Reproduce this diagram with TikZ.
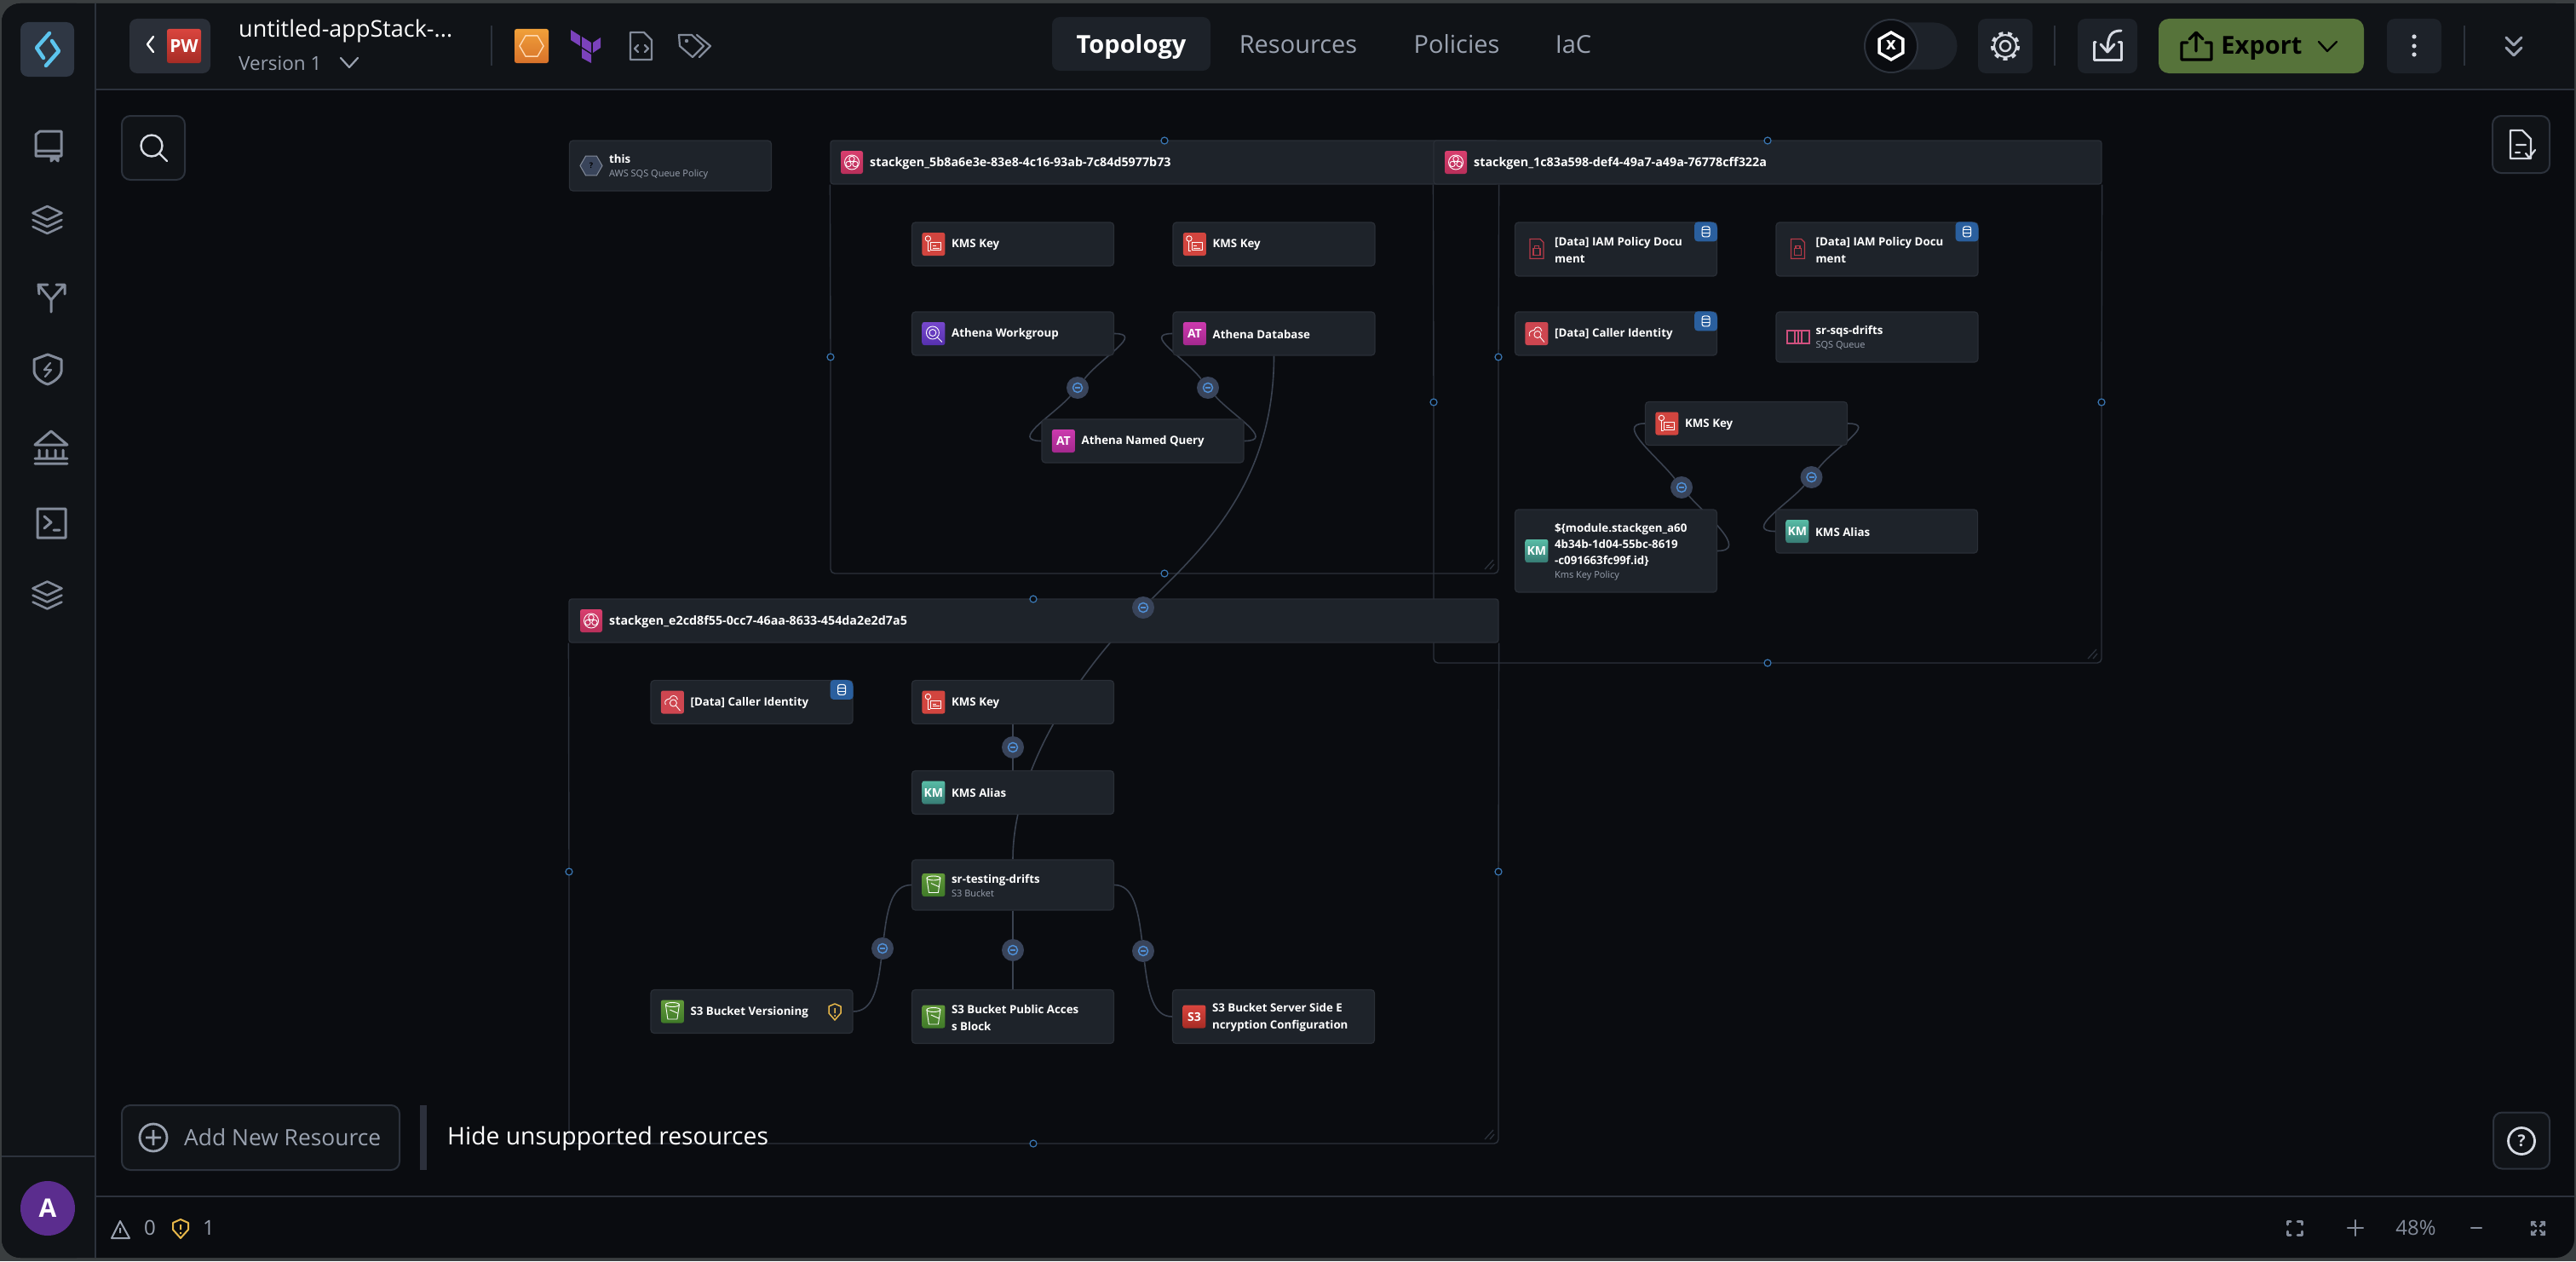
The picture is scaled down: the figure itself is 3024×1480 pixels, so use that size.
\documentclass[tikz,border=0pt]{standalone}
\usepackage{fontspec}
\setmainfont{Open Sans}
\usetikzlibrary{positioning, shapes.geometric, backgrounds}
\definecolor{outer}{HTML}{3A3E40}
\definecolor{canvas}{HTML}{0A0C10}
\definecolor{barbg}{HTML}{101317}
\definecolor{cardbg}{HTML}{1E232A}
\definecolor{cardline}{HTML}{2A2F37}
\definecolor{frameline}{HTML}{2C323C}
\definecolor{wirecol}{HTML}{3A4250}
\definecolor{lnkbg}{HTML}{39445A}
\definecolor{bluemark}{HTML}{4F8FD6}
\definecolor{handlecol}{HTML}{3A78B5}
\definecolor{btnbg}{HTML}{1D2229}
\definecolor{logobg}{HTML}{2F3744}
\definecolor{backbg}{HTML}{2A2F38}
\definecolor{greyicon}{HTML}{838B9A}
\definecolor{lighticon}{HTML}{D6DAE2}
\definecolor{dimtext}{HTML}{9AA2B0}
\definecolor{exportbg}{HTML}{56733A}
\definecolor{dbblue}{HTML}{2A5F9E}
\definecolor{warnyellow}{HTML}{E8B84A}
\definecolor{pinktop}{HTML}{D83F6E}
\definecolor{pinkbot}{HTML}{B82F5A}
\definecolor{kmsred}{HTML}{D2453F}
\definecolor{callred}{HTML}{CE4650}
\definecolor{kmtop}{HTML}{58BCA6}
\definecolor{kmbot}{HTML}{377C74}
\definecolor{attop}{HTML}{CC3AAE}
\definecolor{atbot}{HTML}{A3288E}
\definecolor{wgtop}{HTML}{7748CC}
\definecolor{wgbot}{HTML}{5530AE}
\definecolor{s3top}{HTML}{629A3A}
\definecolor{s3bot}{HTML}{3F7A28}
\definecolor{sredtop}{HTML}{DA453E}
\definecolor{sredbot}{HTML}{A62C25}
\definecolor{docred}{HTML}{B43A48}
\definecolor{sqspink}{HTML}{D0507E}
\definecolor{avatar}{HTML}{5B2D8E}
\definecolor{tfpurple}{HTML}{7B42BC}
\definecolor{orangetop}{HTML}{F0A03A}
\definecolor{orangebot}{HTML}{D8722A}
\definecolor{swirl}{HTML}{5CC4EE}
\definecolor{barmark}{HTML}{2C303C}
\pgfdeclarelayer{back}
\pgfsetlayers{back,main}
\tikzstyle{card}=[rectangle, rounded corners=4pt, draw=cardline, fill=cardbg, line width=1.2pt, minimum width=237pt, inner sep=0pt]
\tikzstyle{grouphead}=[rectangle, rounded corners=3pt, draw=cardline, fill=cardbg, line width=1.2pt, inner sep=0pt]
\tikzstyle{groupframe}=[draw=frameline, line width=1.4pt, rounded corners=5pt]
\tikzstyle{tile}=[rectangle, rounded corners=2.5pt, minimum width=27pt, minimum height=27pt, inner sep=0pt, text=white, font=\fontsize{14}{14}\selectfont\bfseries]
\tikzstyle{cardtext}=[anchor=west, align=left, inner sep=0pt, text=white, font=\fontsize{13.3}{20}\selectfont\bfseries]
\tikzstyle{headtext}=[anchor=west, inner sep=0pt, text=white, font=\fontsize{14.3}{16}\selectfont\bfseries]
\tikzstyle{wire}=[draw=wirecol, line width=1.6pt]
\tikzstyle{lnk}=[circle, fill=lnkbg, inner sep=0pt, minimum size=26pt]
\tikzstyle{lnkmark}=[draw=bluemark, line width=1.5pt]
\tikzstyle{handle}=[circle, draw=handlecol, fill=canvas, line width=1.2pt, inner sep=0pt, minimum size=8pt]
\tikzstyle{btn}=[rectangle, rounded corners=9pt, fill=btnbg, inner sep=0pt]
\tikzstyle{toolbtn}=[rectangle, rounded corners=10pt, fill=barbg, draw=frameline, line width=2pt, inner sep=0pt]
\tikzstyle{tabtext}=[inner sep=0pt, text=dimtext, font=\fontsize{29}{32}\selectfont]
\tikzstyle{sideicon}=[draw=greyicon, line width=3pt, line cap=round, line join=round]
\tikzstyle{topicon}=[draw=lighticon, line width=3pt, line cap=round, line join=round]
\tikzstyle{glyph}=[draw=white, line width=.9pt, line join=round]
\newcommand{\card}{\node[card]}
\newcommand{\tile}[3]{\node[tile, #2] (#1i) at ([xshift=26]#1.west) {#3};}
\newcommand{\cardtext}[2]{\node[cardtext] (#1t) at ([xshift=47,yshift=-1]#1.west) {#2};}
\newcommand{\lnk}[2]{\node[lnk] (#1) at (#2) {};
  \draw[lnkmark] (#1.center) circle (5.5);
  \draw[lnkmark] ([xshift=-3]#1.center) -- ([xshift=3]#1.center);}
\newcommand{\dbtab}[1]{\fill[dbblue, rounded corners=4pt] ([xshift=-27]#1.north east) -- ([xshift=-4]#1.north east) -- ([yshift=-4]#1.north east) -- ([yshift=-23]#1.north east) -- ([xshift=-27,yshift=-23]#1.north east) -- cycle;
  \draw[draw=white, line width=1.1pt, rounded corners=2.5pt] ([xshift=-18,yshift=-5.5]#1.north east) rectangle ([xshift=-9,yshift=-17.5]#1.north east);
  \draw[draw=white, line width=1.1pt] ([xshift=-18,yshift=-9.5]#1.north east) -- ([xshift=-9,yshift=-9.5]#1.north east) ([xshift=-18,yshift=-13.5]#1.north east) -- ([xshift=-9,yshift=-13.5]#1.north east);}
\newcommand{\kmsglyph}[1]{\begin{scope}[shift={(#1)}]
  \draw[glyph] (-6.5,-6.5) circle (3.2);
  \draw[glyph] (-6.5,-3.3) -- (-6.5,8) -- (-4,8);
  \draw[glyph] (-3,-2) rectangle (9,7);
  \draw[glyph] (-1,2) -- (3,2) (-1,4.5) -- (7,4.5);
  \end{scope}}
\newcommand{\callglyph}[1]{\begin{scope}[shift={(#1)}]
  \draw[glyph] (-8,3) .. controls (-11,-3) and (-4,-4) .. (-3,-4) .. controls (-2,-9) and (5,-9) .. (6,-3);
  \draw[glyph] (1,1) circle (4);
  \draw[glyph] (4,4) -- (9,10);
  \end{scope}}
\newcommand{\bucketglyph}[1]{\begin{scope}[shift={(#1)}]
  \draw[glyph] (0,-8) ellipse (8 and 2.5);
  \draw[glyph] (-8,-8) -- (-5.5,9) -- (5.5,9) -- (8,-8);
  \draw[glyph] (-3,-2) -- (6,2);
  \end{scope}}
\newcommand{\stackglyph}[1]{\begin{scope}[shift={(#1)}]
  \draw[glyph] (0,0) circle (8.5);
  \draw[glyph] (-4,2) circle (3.2) (4,2) circle (3.2) (0,-4) circle (3.2);
  \end{scope}}
\newcommand{\wgglyph}[1]{\begin{scope}[shift={(#1)}]
  \draw[glyph] (-1,-1) circle (7.5);
  \draw[glyph] (-1,-1) circle (4);
  \draw[glyph] (4,4) -- (10,10);
  \end{scope}}
\newcommand{\docglyph}[1]{\begin{scope}[shift={(#1)}]
  \draw[draw=docred, line width=1.3pt] (-8,-12) -- (4,-12) -- (8,-8) -- (8,11) -- (-8,11) -- cycle;
  \draw[draw=docred, line width=1.3pt] (-4,-1) rectangle (4,7);
  \draw[draw=docred, line width=1.3pt] (-2.5,-1) -- (-2.5,-4) -- (2.5,-4) -- (2.5,-1);
  \end{scope}}
\newcommand{\layersicon}[1]{\begin{scope}[shift={(#1)}]
  \draw[sideicon, line width=2.6pt] (-17,-8) -- (0,-16) -- (17,-8) -- (0,0) -- cycle;
  \draw[sideicon, line width=2.6pt] (-17,0) -- (0,8) -- (17,0);
  \draw[sideicon, line width=2.6pt] (-17,8) -- (0,16) -- (17,8);
  \end{scope}}
\begin{document}
\begin{tikzpicture}[x=1pt, y=-1pt]
    \useasboundingbox (0,0) rectangle (3024,1480);
    \begin{pgfonlayer}{back}
        \fill[outer] (0,0) rectangle (3024,1480);
        \fill[canvas, rounded corners=22pt] (2,4) rectangle (3022,1476);
    \end{pgfonlayer}
    \fill[barbg] (112,4) rectangle (3022,105);
    \fill[barbg, rounded corners=22pt] (2,4) rectangle (112,1476);
    \fill[barbg] (60,4) rectangle (112,60);
    \fill[barbg] (60,1400) rectangle (112,1476);
    \draw[frameline, line width=1.6pt] (112,4) -- (112,1476);
    \draw[frameline, line width=2pt] (112,105) -- (3022,105);
    \draw[frameline, line width=1.6pt] (2,1357) -- (112,1357);
    \draw[frameline, line width=2pt] (112,1404) -- (3022,1404);

    \node[btn, fill=logobg, minimum width=63pt, minimum height=64pt] (logo) at (55.5,58) {};
    \draw[draw=swirl, line width=4.5pt, line cap=round, line join=round] (58,39) -- (43,56) -- (51,68) (54,77) -- (69,60) -- (61,48);

    \node[btn, fill=backbg, minimum width=95pt, minimum height=64pt] (back) at (199.5,54) {};
    \draw[draw=white, line width=2.4pt, line cap=round, line join=round] (180,43) -- (173,52) -- (180,61);
    \node[tile, top color=sredtop, bottom color=sredbot, minimum width=40pt, minimum height=40pt, font=\fontsize{21}{21}\selectfont\bfseries] (pw) at (216,54) {PW};
    \node[anchor=west, inner sep=0pt, text=white, font=\fontsize{27}{30}\selectfont] (title) at (280,36) {untitled-appStack-...};
    \node[anchor=west, inner sep=0pt, text=dimtext, font=\fontsize{22.5}{26}\selectfont] (ver) at (280,74) {Version 1};
    \draw[draw=dimtext, line width=2.2pt, line cap=round, line join=round] (400,68) -- (410,79) -- (420,68);
    \draw[frameline, line width=2.4pt] (577,30) -- (577,77);
    \node[tile, top color=orangetop, bottom color=orangebot, minimum width=40pt, minimum height=40pt] (orange) at (624,54) {};
    \node[regular polygon, regular polygon sides=6, shape border rotate=0, draw=white!70!orange, line width=1.4pt, minimum size=28pt, inner sep=0pt] (orangehex) at (624,54) {};
    \fill[tfpurple] (670,35) -- (681,42) -- (681,54) -- (670,47) -- cycle (683,43) -- (694,50) -- (694,62) -- (683,55) -- cycle (696,50) -- (705,44) -- (705,56) -- (696,62) -- cycle (683,57) -- (694,64) -- (694,74) -- (683,68) -- cycle;
    \draw[sideicon, line width=2.2pt] (742,38) -- (756,38) -- (765,47) -- (765,70) -- (740,70) -- (740,38) -- (742,38);
    \draw[sideicon, line width=2.2pt] (749,53) -- (745,57) -- (749,61) (757,53) -- (761,57) -- (757,61);
    \draw[sideicon, line width=2.2pt] (797,41) -- (812,41) -- (826,54) -- (813,67) -- (798,54) -- cycle (818,41) -- (834,54) -- (821,67);
    \fill[greyicon] (806,48) circle (2.2);

    \node[btn, minimum width=186pt, minimum height=63pt] (tabtop) at (1328,51.5) {};
    \node[tabtext, text=white, font=\fontsize{29}{32}\selectfont\bfseries] (topo) at (1328,55) {Topology};
    \node[tabtext] (tabres) at (1524,52) {Resources};
    \node[tabtext] (tabpol) at (1710,52) {Policies};
    \node[tabtext] (tabiac) at (1847,52) {IaC};

    \node[btn, rounded corners=27pt, minimum width=95pt, minimum height=55pt] (togglebg) at (2250,54) {};
    \node[circle, fill=canvas, draw=frameline, line width=2pt, minimum size=62pt, inner sep=0pt] (togglecirc) at (2220,54) {};
    \node[regular polygon, regular polygon sides=6, rotate=30, draw=white, line width=3.4pt, minimum size=32pt, inner sep=0pt] (togglehex) at (2220,54) {};
    \node[inner sep=0pt, text=white, font=\fontsize{20}{20}\selectfont\bfseries] (togglex) at (2220,53) {x};
    \node[btn, minimum width=64pt, minimum height=64pt] (gearbtn) at (2354,54) {};
    \draw[topicon, line width=2.4pt] (2354,54) circle (6);
    \draw[topicon, dash pattern=on 5pt off 5.5pt, line width=4pt, line cap=butt] (2354,54) circle (15);
    \draw[topicon, line width=2pt] (2354,54) circle (13);
    \draw[frameline, line width=2.4pt] (2412,30) -- (2412,77);
    \node[btn, minimum width=70pt, minimum height=64pt] (savebtn) at (2474,54) {};
    \draw[topicon] (2460,50) -- (2458,50) -- (2458,71) -- (2490,71) -- (2490,50) -- (2487,50);
    \draw[topicon] (2490,36) .. controls (2478,36) and (2474,42) .. (2474,60);
    \draw[topicon] (2466,52) -- (2474,61) -- (2482,52);
    \node[btn, fill=exportbg, rounded corners=12pt, minimum width=241pt, minimum height=64pt] (exportbtn) at (2654.5,54) {};
    \draw[draw=black, line width=3.2pt, line cap=round, line join=round] (2568,50) -- (2561,50) -- (2561,70) -- (2596,70) -- (2596,50) -- (2589,50) (2578,60) -- (2578,39) (2570,46) -- (2578,38) -- (2586,46);
    \node[inner sep=0pt, text=black, font=\fontsize{29}{32}\selectfont\bfseries] (exporttxt) at (2655,57) {Export};
    \draw[draw=black, line width=2.4pt, line cap=round, line join=round] (2722,49) -- (2732,60) -- (2743,49);
    \node[btn, minimum width=64pt, minimum height=64pt] (dotsbtn) at (2834,54) {};
    \fill[lighticon] (2834,43) circle (2.6) (2834,54) circle (2.6) (2834,64) circle (2.6);
    \draw[frameline, line width=2.4pt] (2893,30) -- (2893,77);
    \draw[sideicon, draw=dimtext] (2942,44) -- (2951,53) -- (2960,44) (2942,56) -- (2951,65) -- (2960,56);

    \node[toolbtn, minimum width=74pt, minimum height=75pt] (searchbtn) at (180,173.5) {};
    \draw[topicon, line width=2.4pt] (178,171) circle (12.5) (187,180) -- (196,189);
    \node[toolbtn, minimum width=67pt, minimum height=67pt] (checkbtn) at (2959.5,169.5) {};
    \draw[topicon, line width=2.2pt] (2947,153) -- (2961,153) -- (2971,163) -- (2971,186) -- (2947,186) -- cycle (2954,170) -- (2965,170) (2953,179) -- (2958,179) (2965,180) -- (2969,185) -- (2976,176);
    \node[toolbtn, minimum width=326pt, minimum height=76pt] (addbtn) at (306,1335) {};
    \draw[draw=dimtext, line width=2.8pt] (180,1335) circle (16) (180,1326) -- (180,1344) (171,1335) -- (189,1335);
    \node[anchor=west, inner sep=0pt, text=dimtext, font=\fontsize{26.4}{30}\selectfont] (addtxt) at (216,1335) {Add New Resource};
    \fill[barmark] (493,1297) rectangle (501,1373);
    \node[anchor=west, inner sep=0pt, text=white, font=\fontsize{28.3}{32}\selectfont] (hidetxt) at (525,1336) {Hide unsupported resources};
    \node[toolbtn, minimum width=66pt, minimum height=66pt] (helpbtn) at (2960,1338.5) {};
    \draw[topicon, line width=2.8pt] (2960,1339) circle (15.5);
    \node[inner sep=0pt, text=lighticon, font=\fontsize{19}{20}\selectfont\bfseries] (helptxt) at (2960,1339) {?};

    \draw[sideicon] (72,154) -- (47,154) -- (42,158) -- (42,183) -- (72,183) -- cycle (42,177) -- (72,177) (60,183) -- (60,189) -- (64,185) -- (68,189) -- (68,183);
    \layersicon{55.5,258}
    \draw[sideicon] (60,366) -- (60,352) -- (46,335) (46,345) -- (45,334) -- (56,334) (60,352) -- (75,335) (66,334) -- (76,334) -- (76,345);
    \draw[sideicon] (56,416) -- (72,422) -- (72,436) .. controls (71,443) and (62,449) .. (56,451) .. controls (49,449) and (41,443) .. (40,436) -- (40,422) -- cycle;
    \draw[sideicon, line width=2.2pt] (59,426) -- (52,434) -- (60,434) -- (53,442);
    \draw[sideicon] (41,522) -- (60,506) -- (79,522) -- cycle (46,528) -- (46,536) (55,528) -- (55,536) (65,528) -- (65,536) (74,528) -- (74,536) (41,538) -- (79,538) (41,544) -- (79,544);
    \draw[sideicon] (44,597) rectangle (77,631) (52,606) -- (60,613) -- (52,620) (63,622) -- (70,622);
    \layersicon{55.5,698.5}
    \node[circle, fill=avatar, minimum size=64pt, inner sep=0pt, text=white, font=\fontsize{30}{30}\selectfont\bfseries] (avat) at (56,1418) {A};
    \draw[draw=dimtext, line width=2pt, line join=round] (141,1433) -- (131,1453) -- (152,1453) -- cycle (141,1441) -- (141,1447);
    \node[inner sep=0pt, text=dimtext, font=\fontsize{24}{24}\selectfont] (warnnum) at (176,1441) {0};
    \draw[draw=warnyellow, line width=2pt, line join=round] (212,1431) -- (221,1435) -- (221,1443) -- (212,1453) -- (203,1443) -- (203,1435) -- cycle (212,1437) -- (212,1443) (212,1446) -- (212,1448);
    \node[inner sep=0pt, text=dimtext, font=\fontsize{24}{24}\selectfont] (shieldnum) at (245,1441) {1};
    \draw[sideicon] (2685,1437) -- (2685,1433) -- (2689,1433) (2697,1433) -- (2702,1433) -- (2702,1437) (2685,1445) -- (2685,1449) -- (2689,1449) (2697,1449) -- (2702,1449) -- (2702,1445);
    \draw[sideicon, line width=2.4pt] (2765,1432) -- (2765,1450) (2756,1441) -- (2774,1441);
    \node[inner sep=0pt, text=greyicon, font=\fontsize{24}{24}\selectfont] (zoomtxt) at (2836,1441) {48\%};
    \draw[sideicon, line width=2.4pt] (2901,1441) -- (2913,1441);
    \draw[sideicon, line width=2.4pt] (2972,1434) -- (2977,1439) (2972,1434) -- (2972,1438) (2972,1434) -- (2976,1434) (2987,1434) -- (2982,1439) (2987,1434) -- (2987,1438) (2987,1434) -- (2983,1434) (2972,1449) -- (2977,1444) (2972,1449) -- (2972,1445) (2972,1449) -- (2976,1449) (2987,1449) -- (2982,1444) (2987,1449) -- (2987,1445) (2987,1449) -- (2983,1449);

    \node[grouphead, minimum width=784pt, minimum height=51pt] (gone) at (1367,190.5) {};
    \node[tile, top color=pinktop, bottom color=pinkbot, minimum width=26pt] (gonei) at (1000,190.5) {};
    \stackglyph{gonei}
    \node[headtext] (gonet) at (1021,192) {stackgen\_5b8a6e3e-83e8-4c16-93ab-7c84d5977b73};
    \node[grouphead, minimum width=784pt, minimum height=51pt] (gtwo) at (2075,190.5) {};
    \node[tile, top color=pinktop, bottom color=pinkbot, minimum width=26pt] (gtwoi) at (1709,190.5) {};
    \stackglyph{gtwoi}
    \node[headtext] (gtwot) at (1730,192) {stackgen\_1c83a598-def4-49a7-a49a-76778cff322a};
    \node[grouphead, minimum width=1091pt, minimum height=51pt] (gthree) at (1213.5,728.5) {};
    \node[tile, top color=pinktop, bottom color=pinkbot, minimum width=26pt] (gthreei) at (694,728.5) {};
    \stackglyph{gthreei}
    \node[headtext] (gthreet) at (715,730) {stackgen\_e2cd8f55-0cc7-46aa-8633-454da2e2d7a5};

    \card[minimum height=59pt] (thispol) at (787,194.5) {};
    \node[regular polygon, regular polygon sides=6, fill=lnkbg, draw=greyicon, line width=1pt, minimum size=26pt, inner sep=0pt, text=black, font=\fontsize{9}{9}\selectfont\bfseries] (thispoli) at (694,194.5) {?};
    \cardtext{thispol}{this\\[-4pt]{\fontsize{11}{14}\selectfont\mdseries\color{dimtext}AWS SQS Queue Policy}}

    \card[minimum height=51pt] (kmsa) at (1189,286.5) {};
    \tile{kmsa}{fill=kmsred}{}
    \kmsglyph{kmsai}
    \cardtext{kmsa}{KMS Key}
    \card[minimum height=51pt] (kmsb) at (1495.5,286.5) {};
    \tile{kmsb}{fill=kmsred}{}
    \kmsglyph{kmsbi}
    \cardtext{kmsb}{KMS Key}
    \card[minimum height=51pt] (athwg) at (1189,391.5) {};
    \tile{athwg}{top color=wgtop, bottom color=wgbot}{}
    \wgglyph{athwgi}
    \cardtext{athwg}{Athena Workgroup}
    \card[minimum height=51pt] (athdb) at (1495.5,391.5) {};
    \tile{athdb}{top color=attop, bottom color=atbot}{AT}
    \cardtext{athdb}{Athena Database}
    \card[minimum height=51pt] (athnq) at (1341.5,517.5) {};
    \tile{athnq}{top color=attop, bottom color=atbot}{AT}
    \cardtext{athnq}{Athena Named Query}

    \card[minimum height=63pt] (iama) at (1897,292.5) {};
    \docglyph{[xshift=26]iama.west}
    \cardtext{iama}{[Data] IAM Policy Docu\\ment}
    \dbtab{iama}
    \card[minimum height=63pt] (iamb) at (2203.5,292.5) {};
    \docglyph{[xshift=26]iamb.west}
    \cardtext{iamb}{[Data] IAM Policy Docu\\ment}
    \dbtab{iamb}
    \card[minimum height=51pt] (calla) at (1897,391.5) {};
    \tile{calla}{fill=callred}{}
    \callglyph{callai}
    \cardtext{calla}{[Data] Caller Identity}
    \dbtab{calla}
    \card[minimum height=59pt] (sqs) at (2203.5,395.5) {};
    \node[rectangle, draw=sqspink, line width=1.4pt, minimum width=26pt, minimum height=15pt, inner sep=0pt] (sqsi) at (2111,395.5) {};
    \draw[draw=sqspink, line width=1.2pt] (2107,389) -- (2107,402) (2111,389) -- (2111,402) (2115,389) -- (2115,402);
    \cardtext{sqs}{sr-sqs-drifts\\[-4pt]{\fontsize{11}{14}\selectfont\mdseries\color{dimtext}SQS Queue}}
    \card[minimum height=51pt] (kmsc) at (2050,497) {};
    \tile{kmsc}{fill=kmsred}{}
    \kmsglyph{kmsci}
    \cardtext{kmsc}{KMS Key}
    \card[minimum height=97pt] (kmspol) at (1897,646.5) {};
    \tile{kmspol}{top color=kmtop, bottom color=kmbot}{KM}
    \cardtext{kmspol}{\$\{module.stackgen\_a60\\[-1pt]4b34b-1d04-55bc-8619\\[-1pt]-c091663fc99f.id\}\\[-4pt]{\fontsize{11}{14}\selectfont\mdseries\color{dimtext}Kms Key Policy}}
    \card[minimum height=51pt] (kmsala) at (2203,623.5) {};
    \tile{kmsala}{top color=kmtop, bottom color=kmbot}{KM}
    \cardtext{kmsala}{KMS Alias}

    \card[minimum height=51pt] (callb) at (882.5,824) {};
    \tile{callb}{fill=callred}{}
    \callglyph{callbi}
    \cardtext{callb}{[Data] Caller Identity}
    \dbtab{callb}
    \card[minimum height=51pt] (kmsd) at (1189,824) {};
    \tile{kmsd}{fill=kmsred}{}
    \kmsglyph{kmsdi}
    \cardtext{kmsd}{KMS Key}
    \card[minimum height=51pt] (kmsalb) at (1189,930) {};
    \tile{kmsalb}{top color=kmtop, bottom color=kmbot}{KM}
    \cardtext{kmsalb}{KMS Alias}
    \card[minimum height=59pt] (bucket) at (1189,1038.5) {};
    \tile{bucket}{top color=s3top, bottom color=s3bot}{}
    \bucketglyph{bucketi}
    \cardtext{bucket}{sr-testing-drifts\\[-4pt]{\fontsize{11}{14}\selectfont\mdseries\color{dimtext}S3 Bucket}}
    \card[minimum height=51pt] (s3ver) at (882.5,1187) {};
    \tile{s3ver}{top color=s3top, bottom color=s3bot}{}
    \bucketglyph{s3veri}
    \cardtext{s3ver}{S3 Bucket Versioning}
    \draw[draw=warnyellow, line width=1.5pt, line join=round] (980,1178) -- (987,1181) -- (987,1189) -- (980,1197) -- (973,1189) -- (973,1181) -- cycle (980,1183) -- (980,1189) (980,1191) -- (980,1193);
    \card[minimum height=63pt] (s3pub) at (1189,1193) {};
    \tile{s3pub}{top color=s3top, bottom color=s3bot}{}
    \bucketglyph{s3pubi}
    \cardtext{s3pub}{S3 Bucket Public Acces\\s Block}
    \card[minimum height=63pt] (s3enc) at (1495,1193) {};
    \tile{s3enc}{top color=sredtop, bottom color=sredbot}{S3}
    \cardtext{s3enc}{S3 Bucket Server Side E\\ncryption Configuration}

    \lnk{lwg}{1265,455}
    \lnk{ldb}{1418,455}
    \lnk{lpol}{1974,572}
    \lnk{lali}{2126.5,560}
    \lnk{lcross}{1342,713}
    \lnk{lkms}{1189,877}
    \lnk{lver}{1036,1113}
    \lnk{lpub}{1189,1115}
    \lnk{lenc}{1342,1116}

    \node[handle] (gonen) at (1367,165) {};
    \node[handle] (gonew) at (975,419) {};
    \node[handle] (gonee) at (1759,419) {};
    \node[handle] (gones) at (1367,673) {};
    \node[handle] (gtwon) at (2075,165) {};
    \node[handle] (gtwow) at (1683,472) {};
    \node[handle] (gtwoe) at (2467,472) {};
    \node[handle] (gtwos) at (2075,778) {};
    \node[handle] (gthreen) at (1213,703) {};
    \node[handle] (gthreew) at (668,1023) {};
    \node[handle] (gthreee) at (1759,1023) {};
    \node[handle] (gthrees) at (1213,1342) {};

    \begin{pgfonlayer}{back}
        \draw[groupframe] (gonew) |- (gones) -| (gonee) -- (gone.south east);
        \draw[groupframe] (gone.south west) -- (gonew);
        \draw[groupframe] (gtwow) |- (gtwos) -| (gtwoe) -- (gtwo.south east);
        \draw[groupframe] (gtwo.south west) -- (gtwow);
        \draw[groupframe] (gthreew) |- (gthrees) -| (gthreee) -- (gthree.south east);
        \draw[groupframe] (gthree.south west) -- (gthreew);
        \draw[draw=frameline, line width=1.3pt] (1743,668) -- (1753,657) (1749,668) -- (1754,662);
        \draw[draw=frameline, line width=1.3pt] (2451,773) -- (2461,762) (2457,773) -- (2462,767);
        \draw[draw=frameline, line width=1.3pt] (1743,1337) -- (1753,1326) (1749,1337) -- (1754,1331);
        \draw[wire] (athwg.east) .. controls +(36,0) and +(28,-36) .. (lwg);
        \draw[wire] (lwg) .. controls +(-28,32) and +(-38,0) .. (athnq.west);
        \draw[wire] (athdb.west) .. controls +(-36,0) and +(-28,-36) .. (ldb);
        \draw[wire] (ldb) .. controls +(28,32) and +(38,0) .. (athnq.east);
        \draw[wire] (athdb.south) .. controls +(0,150) and +(70,-70) .. (lcross);
        \draw[wire] (lcross) .. controls +(-70,70) and +(0,-110) .. (bucket.north);
        \draw[wire] (kmsc.west) .. controls +(-36,0) and +(-28,-36) .. (lpol);
        \draw[wire] (lpol) .. controls +(28,32) and +(38,0) .. (kmspol.east);
        \draw[wire] (kmsc.east) .. controls +(36,0) and +(28,-36) .. (lali);
        \draw[wire] (lali) .. controls +(-28,32) and +(-38,0) .. (kmsala.west);
        \draw[wire] (kmsd) -- (lkms);
        \draw[wire] (lkms) -- (kmsalb);
        \draw[wire] (bucket.west) .. controls +(-22,0) and +(6,-50) .. (lver);
        \draw[wire] (lver) .. controls +(-6,50) and +(22,0) .. (s3ver.east);
        \draw[wire] (bucket) -- (lpub);
        \draw[wire] (lpub) -- (s3pub);
        \draw[wire] (bucket.east) .. controls +(22,0) and +(-6,-50) .. (lenc);
        \draw[wire] (lenc) .. controls +(6,50) and +(-22,0) .. (s3enc.west);
    \end{pgfonlayer}
\end{tikzpicture}
\end{document}
